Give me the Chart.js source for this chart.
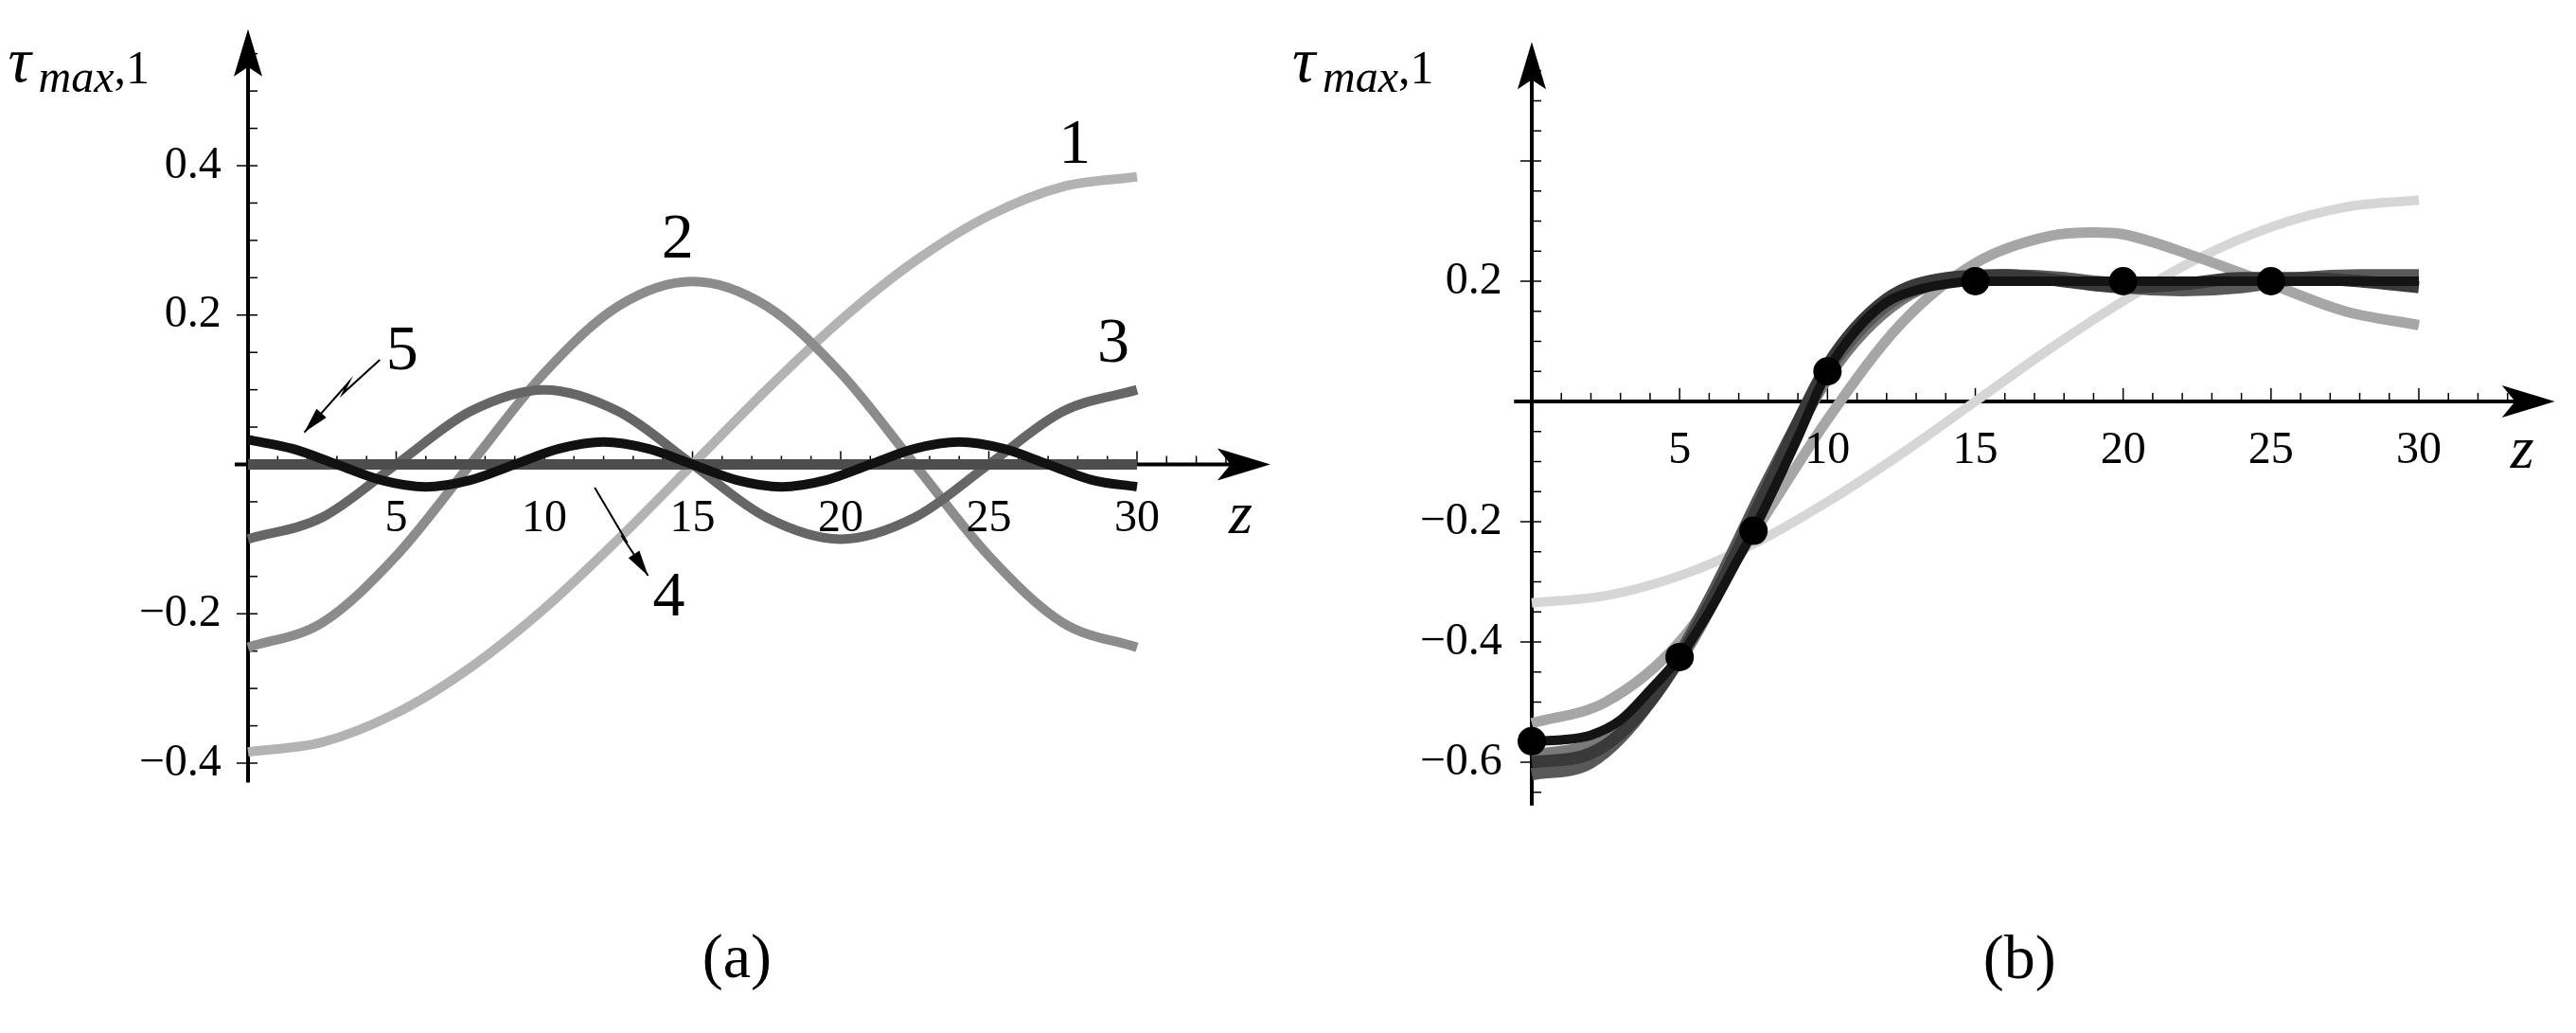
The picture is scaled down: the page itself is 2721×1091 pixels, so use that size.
<!DOCTYPE html>
<html><head><meta charset="utf-8">
<script src="https://cdn.jsdelivr.net/npm/chart.js@4"></script>
<style>html,body{margin:0;background:#fff;width:2721px;height:1091px;overflow:hidden}
canvas{position:absolute;top:0}</style></head>
<body>
<canvas id="ca" style="left:0" width="1360" height="1091"></canvas>
<canvas id="cb" style="left:1360px" width="1361" height="1091"></canvas>
<script>
// ---- Panel (a) data ----
const zA = [0,2.5,5,7.5,10,12.5,15,17.5,20,22.5,25,27.5,30];
const a1 = [-0.385,-0.372,-0.333,-0.272,-0.193,-0.100,0,0.100,0.193,0.272,0.333,0.372,0.385];
const a2 = [-0.245,-0.212,-0.1225,0,0.1225,0.212,0.245,0.212,0.1225,0,-0.1225,-0.212,-0.245];
const a3 = [-0.1,-0.071,0,0.071,0.1,0.071,0,-0.071,-0.1,-0.071,0,0.071,0.1];
const a4 = [0,0,0,0,0,0,0,0,0,0,0,0,0];
const z5 = [0,1.5,3,4.5,6,7.5,9,10.5,12,13.5,15,16.5,18,19.5,21,22.5,24,25.5,27,28.5,30];
const a5 = [0.033,0.021,0,-0.021,-0.03,-0.021,0,0.021,0.03,0.021,0,-0.021,-0.03,-0.021,0,0.021,0.03,0.021,0,-0.021,-0.03];
const yTicksA = [-0.4,-0.2,0.2,0.4];
const xTicks = [5,10,15,20,25,30];
// ---- Panel (b) data ----
const zB1 = [0,2.5,5,7.5,10,12.5,15,17.5,20,22.5,25,27.5,30];
const b1 = [-0.335,-0.323,-0.29,-0.237,-0.167,-0.087,0,0.087,0.167,0.237,0.29,0.323,0.335];
const zB2 = [0,2.5,5,7.5,10,12.5,15,17.5,19,20,22.5,25,27.5,30];
const b2 = [-0.535,-0.50,-0.40,-0.22,-0.03,0.13,0.23,0.275,0.281,0.278,0.24,0.195,0.15,0.127];
const zB3 = [0,2.5,5,7.5,10,12.5,15,17.5,20,22.5,25,27.5,30];
const b3 = [-0.59,-0.56,-0.43,-0.2,0.04,0.17,0.205,0.205,0.195,0.19,0.2,0.205,0.2];
const zB4 = [0,2,4,6,8,10,12,14,16,18,20,22,24,26,28,30];
const b4 = [-0.62,-0.60,-0.50,-0.33,-0.13,0.05,0.16,0.2,0.21,0.205,0.19,0.185,0.19,0.205,0.21,0.21];
const b5 = [-0.60,-0.585,-0.50,-0.34,-0.14,0.06,0.17,0.205,0.21,0.2,0.19,0.195,0.205,0.205,0.2,0.19];
const zB6 = [0,1,2,3,4,5,6,7,7.5,8,9,10,11,12,13,14,15,17.5,20,22.5,25,27.5,30];
const b6 = [-0.565,-0.563,-0.555,-0.53,-0.48,-0.425,-0.35,-0.26,-0.215,-0.165,-0.06,0.05,0.12,0.165,0.185,0.195,0.2,0.2,0.2,0.2,0.2,0.2,0.2];
const dotZ = [0,5,7.5,10,15,20,25];
const dotV = [-0.565,-0.425,-0.215,0.05,0.2,0.2,0.2];
const yTicksB = [-0.6,-0.4,-0.2,0.2];

const pts=(xs,ys)=>xs.map((x,i)=>({x,y:ys[i]}));
const SERIF='"Liberation Serif","DejaVu Serif",serif';

function line(xs,ys,color,w){return {type:'line',data:pts(xs,ys),borderColor:color,borderWidth:w,pointRadius:0,fill:false,cubicInterpolationMode:'monotone',borderCapStyle:'butt'};}

const axesPlugin={id:'axesP',
 beforeDatasetsDraw(c,args,o){
  const x=c.scales.x,y=c.scales.y,ctx=c.ctx;
  const X=v=>x.getPixelForValue(v),Y=v=>y.getPixelForValue(v);
  ctx.save();ctx.strokeStyle='#000';ctx.fillStyle='#000';ctx.lineWidth=4;
  ctx.beginPath();ctx.moveTo(X(0),Y(o.yb));ctx.lineTo(X(0),Y(o.yt)+20);ctx.stroke();
  const ty=Y(o.yt);ctx.beginPath();ctx.moveTo(X(0),ty);ctx.lineTo(X(0)-15,ty+50);ctx.lineTo(X(0),ty+40);ctx.lineTo(X(0)+15,ty+50);ctx.closePath();ctx.fill();
  ctx.beginPath();ctx.moveTo(X(o.xl),Y(0));ctx.lineTo(X(o.xr)-20,Y(0));ctx.stroke();
  const tx=X(o.xr);ctx.beginPath();ctx.moveTo(tx,Y(0));ctx.lineTo(tx-56,Y(0)-17);ctx.lineTo(tx-42,Y(0));ctx.lineTo(tx-56,Y(0)+17);ctx.closePath();ctx.fill();
  ctx.lineWidth=1.5;
  for(let z=1;z<=33;z++){ctx.beginPath();ctx.moveTo(X(z),Y(0));ctx.lineTo(X(z),Y(0)-(z%5==0?14:9));ctx.stroke();}
  for(let k=Math.ceil(o.yb/0.05);k*0.05<=o.yt-0.03;k++){if(k==0)continue;const v=k*0.05;const maj=Math.abs(v*10-Math.round(v*10))<1e-6&&Math.round(v*10)%2==0;ctx.beginPath();ctx.moveTo(X(0)+(maj?-12:0),Y(v));ctx.lineTo(X(0)+10,Y(v));ctx.stroke();}
  ctx.restore();
 },
 afterDraw(c,args,o){
  const x=c.scales.x,y=c.scales.y,ctx=c.ctx;
  const X=v=>x.getPixelForValue(v),Y=v=>y.getPixelForValue(v);
  ctx.save();ctx.fillStyle='#000';ctx.strokeStyle='#000';
  ctx.font='48px '+SERIF;ctx.textBaseline='middle';
  ctx.textAlign='center';xTicks.forEach(t=>ctx.fillText(String(t),X(t),Y(o.xlab)));
  ctx.textAlign='right';o.yticks.forEach(t=>ctx.fillText((t<0?'\u2212':'')+Math.abs(t).toFixed(1),X(o.ylabz),Y(t)));
  ctx.font='italic 64px '+SERIF;ctx.textAlign='center';ctx.fillText('z',X(33.5),Y(o.zlab));
  ctx.textAlign='left';const tX=X(-8.1),tY=Y(o.title);
  ctx.font='italic 68px '+SERIF;ctx.fillText('\u03C4',tX,tY);
  ctx.font='italic 48px '+SERIF;ctx.fillText('max',tX+32,tY+16);
  ctx.font='50px '+SERIF;ctx.fillText(',1',tX+112,tY+6);
  ctx.font='66px '+SERIF;ctx.textAlign='center';ctx.fillText(o.panel,X(16.5),Y(o.plab));
  ctx.font='68px '+SERIF;
  (o.labels||[]).forEach(l=>ctx.fillText(l[0],X(l[1]),Y(l[2])));
  ctx.lineWidth=2;
  (o.arrows||[]).forEach(a=>{const p=a.map(q=>[X(q[0]),Y(q[1])]);ctx.beginPath();ctx.moveTo(p[0][0],p[0][1]);for(let i=1;i<p.length;i++)ctx.lineTo(p[i][0],p[i][1]);ctx.stroke();
    const e=p[p.length-1],s=p[p.length-2];const ang=Math.atan2(e[1]-s[1],e[0]-s[0]);
    ctx.beginPath();ctx.moveTo(e[0],e[1]);ctx.lineTo(e[0]-28*Math.cos(ang-0.25),e[1]-28*Math.sin(ang-0.25));ctx.lineTo(e[0]-28*Math.cos(ang+0.25),e[1]-28*Math.sin(ang+0.25));ctx.closePath();ctx.fill();});
  ctx.restore();
 }};

function mk(id,datasets,ymin,ymax,pad,opts){
 return new Chart(document.getElementById(id),{data:{datasets},
  options:{responsive:false,animation:false,devicePixelRatio:1,layout:{padding:pad},
   scales:{x:{type:'linear',min:0,max:30,display:false},y:{type:'linear',min:ymin,max:ymax,display:false}},
   plugins:{legend:{display:false},tooltip:{enabled:false},axesP:opts},
   datasets:{line:{clip:false},scatter:{clip:false}}},
  plugins:[axesPlugin]});
}

mk('ca',[
 line(zA,a1,'#b3b3b3',10),line(zA,a2,'#8c8c8c',10),line(zA,a3,'#666666',10),
 line(zA,a4,'#4d4d4d',11),line(z5,a5,'#111111',10)
].map((d,i)=>(d.order=5-i,d)),-0.4,0.4,{left:262,right:159,top:175,bottom:285},
 {yb:-0.426,yt:0.583,xl:-0.45,xr:34.5,xlab:-0.074,ylabz:-0.9,zlab:-0.07,title:0.535,panel:'(a)',plab:-0.665,yticks:yTicksA,
  labels:[['1',27.9,0.426],['2',14.5,0.30],['3',29.2,0.16],['5',5.2,0.15],['4',14.2,-0.18]],
  arrows:[[[4.45,0.14],[3.2,0.095],[3.4,0.11],[1.9,0.043]],[[11.7,-0.031],[12.8,-0.105],[12.6,-0.095],[13.5,-0.149]]]});

mk('cb',[
 line(zB1,b1,'#d6d6d6',10),line(zB2,b2,'#a6a6a6',11),line(zB3,b3,'#7a7a7a',13),
 line(zB4,b4,'#595959',13),line(zB4,b5,'#3a3a3a',13),line(zB6,b6,'#141414',10),
 {type:'scatter',data:pts(dotZ,dotV),pointRadius:15,backgroundColor:'#000',borderWidth:0}
].map((d,i)=>(d.order=7-i,d)),-0.6,0.2,{left:258,right:166,top:297,bottom:286},
 {yb:-0.672,yt:0.598,xl:-0.6,xr:34.6,xlab:-0.083,ylabz:-1.0,zlab:-0.083,title:0.56,panel:'(b)',plab:-0.932,yticks:yTicksB});
</script></body></html>
